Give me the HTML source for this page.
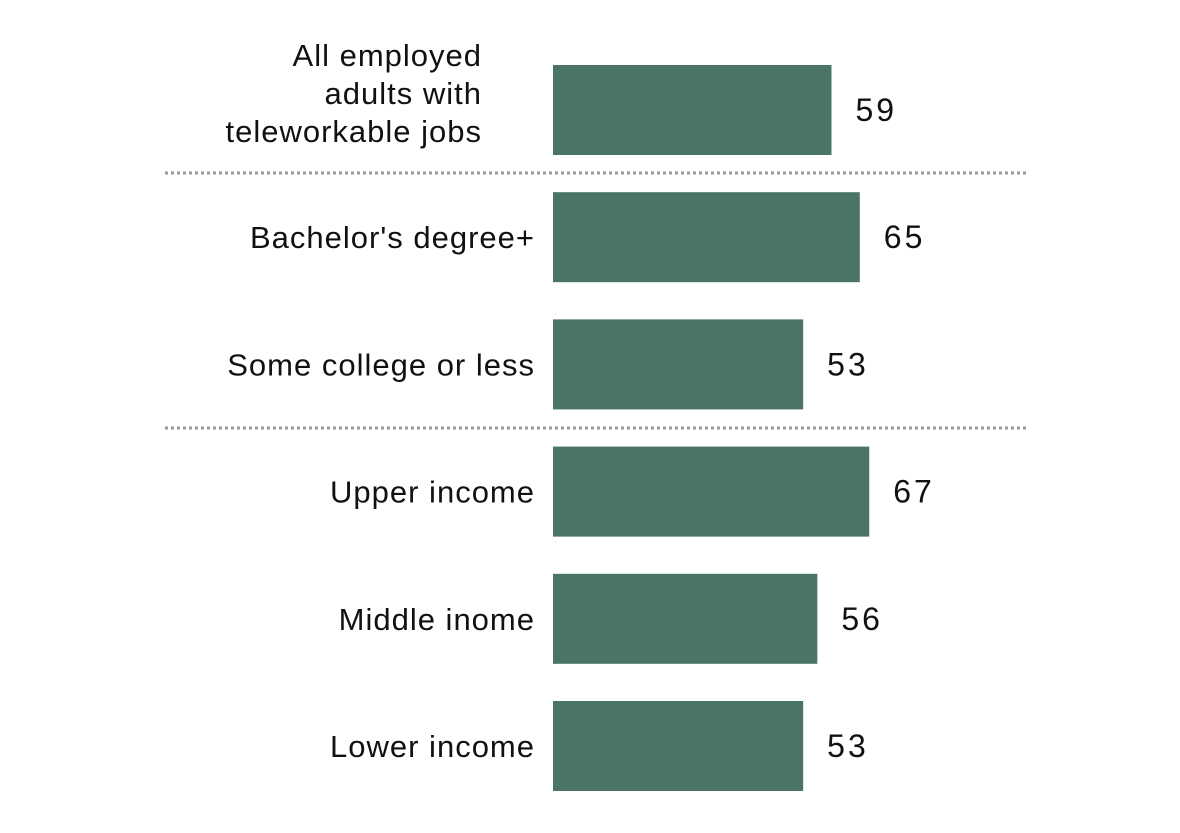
<!DOCTYPE html>
<html><head><meta charset="utf-8"><style>
html,body{margin:0;padding:0;background:#fff;}
svg{display:block;font-family:"Liberation Sans",sans-serif;}
</style></head><body>
<svg id="chart" width="1180" height="833" viewBox="0 0 1180 833" xmlns="http://www.w3.org/2000/svg">
<line x1="165" y1="173" x2="1027" y2="173" stroke="#9a9a9a" stroke-width="3" stroke-dasharray="3 3"/>
<line x1="165" y1="428" x2="1027" y2="428" stroke="#9a9a9a" stroke-width="3" stroke-dasharray="3 3"/>
<g id="bars"></g>
</svg>
<script>
const categories = [["All employed","adults with","teleworkable jobs"],["Bachelor's degree+"],["Some college or less"],["Upper income"],["Middle inome"],["Lower income"]];
const values = [59,65,53,67,56,53];
const x0 = 553, scale = 4.72, y0 = 65, pitch = 127.2, barH = 90;
const xPos = v => x0 + v*scale;
const yPos = i => y0 + i*pitch;
const g = document.getElementById('bars');
const ns = 'http://www.w3.org/2000/svg';
values.forEach((v,i)=>{
  const r = document.createElementNS(ns,'rect');
  r.setAttribute('x',x0); r.setAttribute('y',yPos(i));
  r.setAttribute('width',xPos(v)-x0); r.setAttribute('height',barH);
  r.setAttribute('fill','#4a7566');
  
  
  g.appendChild(r);
  const t = document.createElementNS(ns,'text');
  t.setAttribute('x',xPos(v)+24); t.setAttribute('y',yPos(i)+barH/2+11);
  t.setAttribute('font-size','32'); t.setAttribute('letter-spacing','3'); t.setAttribute('fill','#111');
  t.textContent = v;
  
  
  g.appendChild(t);
  const lines = categories[i];
  const n = lines.length;
  const lab = document.createElementNS(ns,'text');
  lab.setAttribute('font-size','31'); lab.setAttribute('letter-spacing','1'); lab.setAttribute('fill','#111');
  lab.setAttribute('text-anchor','end');
  
  
  const xe = n>1 ? 482 : 535;
  lines.forEach((ln,k)=>{
    const ts = document.createElementNS(ns,'tspan');
    ts.setAttribute('x',xe);
    ts.setAttribute('y', yPos(i)+barH/2+11 + (k-(n-1)/2)*38 - (n>1?17:0));
    ts.textContent = ln;
    lab.appendChild(ts);
  });
  g.appendChild(lab);
});
</script>
</body></html>
